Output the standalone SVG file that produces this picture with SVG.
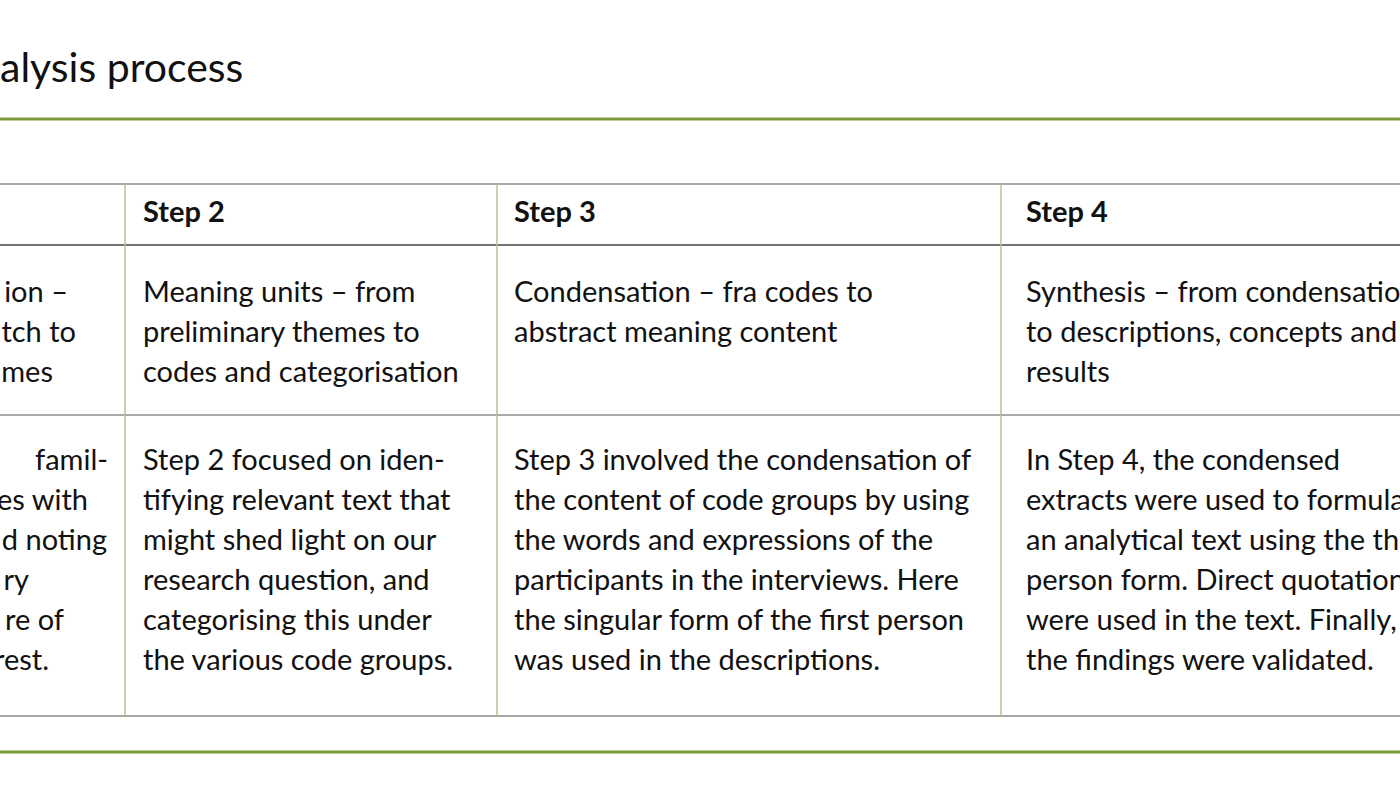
<svg xmlns="http://www.w3.org/2000/svg" width="1400" height="786" viewBox="0 0 1400 786">
<style>
text{font-family:Lato,"Open Sans",sans-serif;font-size:29px;fill:#111}
.h{font-weight:bold}
.e{text-anchor:end}
.g{stroke:#7b9a3c;stroke-width:3}
.gr{stroke:#8c8c8c;stroke-width:1.3}
.v{stroke:#b4c38c;stroke-width:1.5}
</style>
<rect width="1400" height="786" fill="#fff"/>
<text x="0" y="82" style="font-size:41px">alysis process</text>
<g id="lines">
<line class="g" x1="0" y1="119" x2="1400" y2="119"/>
<line class="g" x1="0" y1="752" x2="1400" y2="752"/>
<line class="gr" x1="0" y1="184" x2="1400" y2="184"/>
<line class="gr" x1="0" y1="245" x2="1400" y2="245" style="stroke:#444"/>
<line class="gr" x1="0" y1="415" x2="1400" y2="415"/>
<line class="gr" x1="0" y1="716" x2="1400" y2="716"/>
<line class="v" x1="125" y1="184" x2="125" y2="716"/>
<line class="v" x1="497" y1="184" x2="497" y2="716"/>
<line class="v" x1="1001" y1="184" x2="1001" y2="716"/>
</g>
<g id="col1">
<text class="e" x="68" y="302">ion –</text>
<text class="e" x="76" y="342">tch to</text>
<text class="e" x="53" y="382">mes</text>
<text class="e" x="108" y="470">famil-</text>
<text class="e" x="88" y="510">es with</text>
<text class="e" x="107" y="550">d noting</text>
<text class="e" x="29" y="590">ry</text>
<text class="e" x="64" y="630">re of</text>
<text class="e" x="49" y="670">rest.</text>
</g>
<g id="col2">
<text class="h" x="143" y="222">Step 2</text>
<text x="143" y="302">Meaning units – from</text>
<text x="143" y="342">preliminary themes to</text>
<text x="143" y="382">codes and categorisation</text>
<text x="143" y="470">Step 2 focused on iden-</text>
<text x="143" y="510">tifying relevant text that</text>
<text x="143" y="550">might shed light on our</text>
<text x="143" y="590">research question, and</text>
<text x="143" y="630">categorising this under</text>
<text x="143" y="670">the various code groups.</text>
</g>
<g id="col3">
<text class="h" x="514" y="222">Step 3</text>
<text x="514" y="302">Condensation – fra codes to</text>
<text x="514" y="342">abstract meaning content</text>
<text x="514" y="470">Step 3 involved the condensation of</text>
<text x="514" y="510">the content of code groups by using</text>
<text x="514" y="550">the words and expressions of the</text>
<text x="514" y="590">participants in the interviews. Here</text>
<text x="514" y="630">the singular form of the first person</text>
<text x="514" y="670">was used in the descriptions.</text>
</g>
<g id="col4">
<text class="h" x="1026" y="222">Step 4</text>
<text x="1026" y="302">Synthesis – from condensations</text>
<text x="1026" y="342">to descriptions, concepts and</text>
<text x="1026" y="382">results</text>
<text x="1026" y="470">In Step 4, the condensed</text>
<text x="1026" y="510">extracts were used to formulate</text>
<text x="1026" y="550">an analytical text using the third</text>
<text x="1026" y="590">person form. Direct quotations</text>
<text x="1026" y="630">were used in the text. Finally,</text>
<text x="1026" y="670">the findings were validated.</text>
</g>
</svg>
